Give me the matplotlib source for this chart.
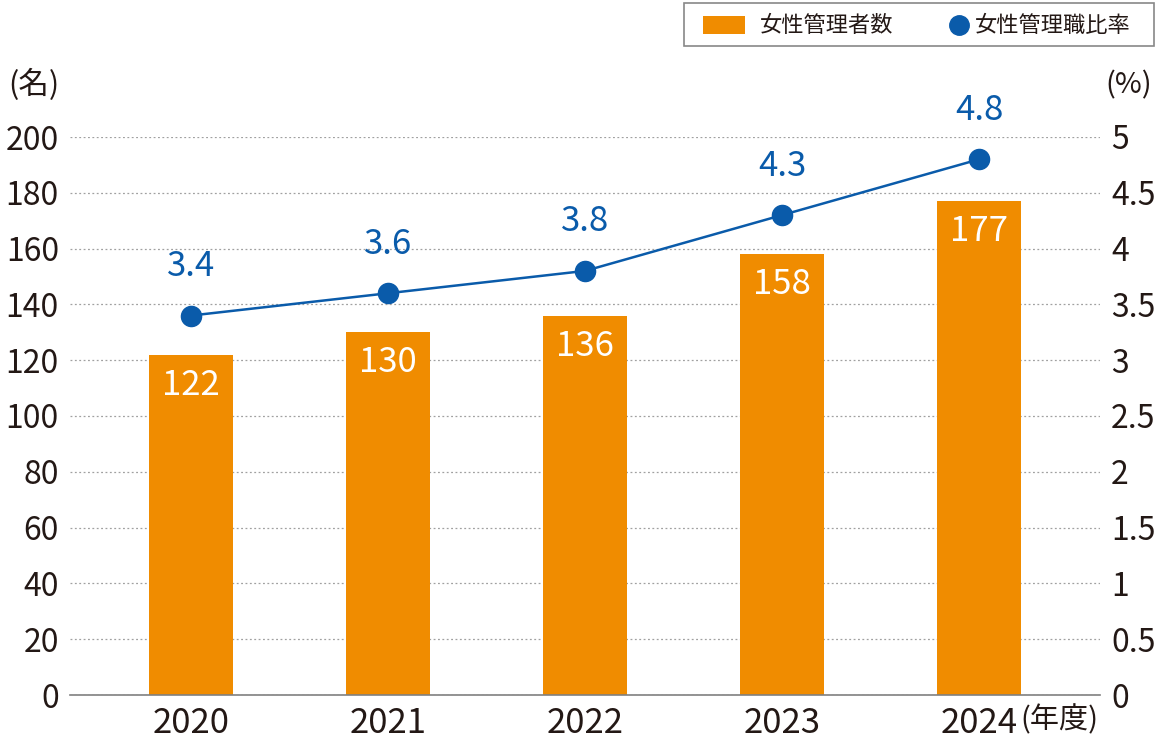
import matplotlib
matplotlib.use('Agg')
import matplotlib.pyplot as plt
from matplotlib.patches import Rectangle
from matplotlib.lines import Line2D

plt.rcParams['font.family'] = ['Noto Sans CJK JP', 'DejaVu Sans']

years = ['2020', '2021', '2022', '2023', '2024']
managers = [122, 130, 136, 158, 177]
ratio = [3.4, 3.6, 3.8, 4.3, 4.8]
left_ticks = [0, 20, 40, 60, 80, 100, 120, 140, 160, 180, 200]
right_ticks = [0, 0.5, 1, 1.5, 2, 2.5, 3, 3.5, 4, 4.5, 5]
right_labels = ['0', '0.5', '1', '1.5', '2', '2.5', '3', '3.5', '4', '4.5', '5']

orange = '#F08C00'
blue = '#0A5BAA'
dark = '#231815'

fig = plt.figure(figsize=(11.6, 7.4), dpi=100)
ax = fig.add_axes([70 / 1160, 45 / 740, 1030 / 1160, 558 / 740])
ax2 = ax.twinx()

x = list(range(len(years)))
ax.bar(x, managers, width=0.426, color=orange, zorder=2)
for xi, v in zip(x, managers):
    ax.text(xi, v - 11, str(v), ha='center', va='center', color='white', fontsize=25, zorder=3)

ax.set_xlim(-0.614, 4.614)
ax.set_ylim(0, 200)
ax.set_yticks(left_ticks)
ax.set_yticklabels([str(t) for t in left_ticks])
ax.yaxis.grid(True, linestyle=(0, (1.5, 2)), color='#a0a0a0', linewidth=0.9)
ax.set_axisbelow(True)
ax.tick_params(axis='y', length=0, pad=8, labelsize=23, labelcolor=dark)
ax.tick_params(axis='x', length=0, pad=8, labelsize=25, labelcolor=dark)
ax.set_xticks(x)
ax.set_xticklabels(years)
for s in ['top', 'left', 'right']:
    ax.spines[s].set_visible(False)
ax.spines['bottom'].set_color('#808080')
ax.spines['bottom'].set_linewidth(1.2)

ax2.plot(x, ratio, color=blue, linewidth=1.8, marker='o', markersize=14.5, zorder=4)
for xi, v in zip(x, ratio):
    ax2.text(xi, v + 0.44, f'{v:.1f}', ha='center', va='center', color=blue, fontsize=25)
ax2.set_ylim(0, 5)
ax2.set_yticks(right_ticks)
ax2.set_yticklabels(right_labels)
ax2.tick_params(axis='y', length=0, pad=8, labelsize=23, labelcolor=dark)
for s in ['top', 'left', 'right', 'bottom']:
    ax2.spines[s].set_visible(False)

fig.text(8 / 1160, 1 - 85 / 740, '(名)', ha='left', va='center', fontsize=22, color=dark)
fig.text(1152 / 1160, 1 - 85 / 740, '(%)', ha='right', va='center', fontsize=21, color=dark)
fig.text(1020 / 1160, 1 - 720 / 740, '(年度)', ha='left', va='center', fontsize=21, color=dark)

# legend box
fig.patches.append(Rectangle((684 / 1160, 1 - 46 / 740), 470 / 1160, 43 / 740,
                             transform=fig.transFigure, facecolor='white', edgecolor='#888888', linewidth=1.2))
fig.patches.append(Rectangle((703 / 1160, 1 - 34 / 740), 42 / 1160, 18 / 740,
                             transform=fig.transFigure, facecolor=orange, edgecolor='none'))
fig.text(760 / 1160, 1 - 25 / 740, '女性管理者数', ha='left', va='center', fontsize=16, color=dark)
fig.lines.append(Line2D([959 / 1160], [1 - 25 / 740], transform=fig.transFigure, marker='o',
                        markersize=14, color=blue, linestyle='none'))
fig.text(975 / 1160, 1 - 25 / 740, '女性管理職比率', ha='left', va='center', fontsize=16, color=dark)

fig.savefig('out.png', dpi=100)
